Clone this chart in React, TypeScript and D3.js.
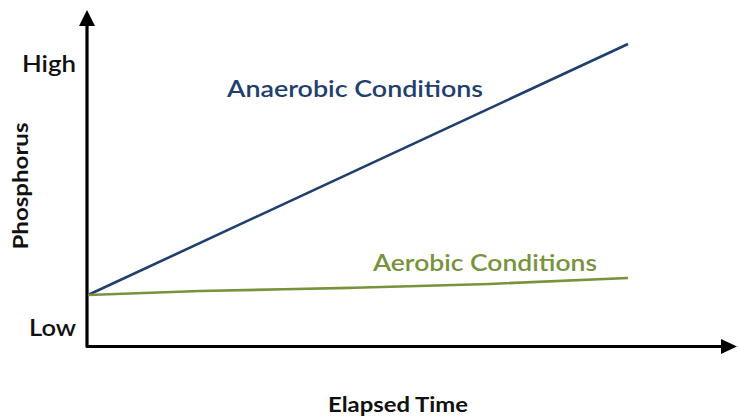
import React from "react";
import * as d3 from "d3";

const W = 738;
const H = 418;

// Data (time in arbitrary units 0..10, phosphorus in relative units Low=0, High=100)
const anaerobicTime = [0, 10];
const anaerobicValues = [12.3, 107.4];
const aerobicTime = [0, 2.07, 4.85, 7.44, 10];
const aerobicValues = [12.3, 13.8, 15.0, 16.5, 18.75];
const yTickValues = [0, 100];
const yTickLabels = ["Low", "High"];
const seriesNames = ["Anaerobic Conditions", "Aerobic Conditions"];
const xTitle = "Elapsed Time";
const yTitle = "Phosphorus";

const NAVY = "#1F3F6E";
const GREEN = "#77933C";
const FONT = "Lato, 'Open Sans', sans-serif";

export default function App() {
  const x = d3.scaleLinear().domain([0, 10]).range([88, 628]);
  const y = d3.scaleLinear().domain([0, 100]).range([327.5, 63.5]);
  const axisX = 87;
  const axisY = 346.5;

  const line = d3
    .line<[number, number]>()
    .x((d) => x(d[0]))
    .y((d) => y(d[1]));
  const curve = d3
    .line<[number, number]>()
    .x((d) => x(d[0]))
    .y((d) => y(d[1]))
    .curve(d3.curveMonotoneX);

  const anaData = anaerobicTime.map((t, i) => [t, anaerobicValues[i]] as [number, number]);
  const aerData = aerobicTime.map((t, i) => [t, aerobicValues[i]] as [number, number]);

  return (
    <svg
      width={W}
      height={H}
      style={{ position: "absolute", left: 0, top: 0, background: "#fff" }}
      fontFamily={FONT}
    >
      <rect width={W} height={H} fill="#fff" />
      {/* Axes */}
      <path
        d={`M${axisX},18 L${axisX},${axisY} L724,${axisY}`}
        fill="none"
        stroke="#000"
        strokeWidth={3.2}
        strokeLinejoin="round"
      />
      <path d={`M${axisX},10 L${axisX - 8},26 L${axisX + 8},26 Z`} fill="#000" />
      <path d={`M737,${axisY} L721,${axisY - 7.5} L721,${axisY + 7.5} Z`} fill="#000" />

      {/* Y tick labels */}
      {yTickValues.map((v, i) => (
        <text
          key={i}
          x={76}
          y={y(v)}
          dy="0.36em"
          textAnchor="end"
          fontSize={23}
          fontWeight={600}
          fill="#111"
          textLength={i === 0 ? 47 : 54}
          lengthAdjust="spacingAndGlyphs"
        >
          {yTickLabels[i]}
        </text>
      ))}

      {/* Series */}
      <path d={line(anaData) || ""} fill="none" stroke={NAVY} strokeWidth={2.6} />
      <path d={curve(aerData) || ""} fill="none" stroke={GREEN} strokeWidth={2.6} />

      {/* Series labels */}
      <text
        x={227}
        y={97}
        fontSize={23}
        fill={NAVY}
        fontWeight={600}
        textLength={256}
        lengthAdjust="spacingAndGlyphs"
      >
        {seriesNames[0]}
      </text>
      <text
        x={373}
        y={271}
        fontSize={23}
        fill={GREEN}
        fontWeight={600}
        textLength={224}
        lengthAdjust="spacingAndGlyphs"
      >
        {seriesNames[1]}
      </text>

      {/* Axis titles */}
      <text
        x={398}
        y={412}
        textAnchor="middle"
        fontSize={21}
        fontWeight={700}
        fill="#111"
        textLength={140}
        lengthAdjust="spacingAndGlyphs"
      >
        {xTitle}
      </text>
      <text
        transform={`translate(28,186) rotate(-90)`}
        textAnchor="middle"
        fontSize={20}
        fontWeight={700}
        fill="#111"
        textLength={127}
        lengthAdjust="spacingAndGlyphs"
      >
        {yTitle}
      </text>
    </svg>
  );
}
